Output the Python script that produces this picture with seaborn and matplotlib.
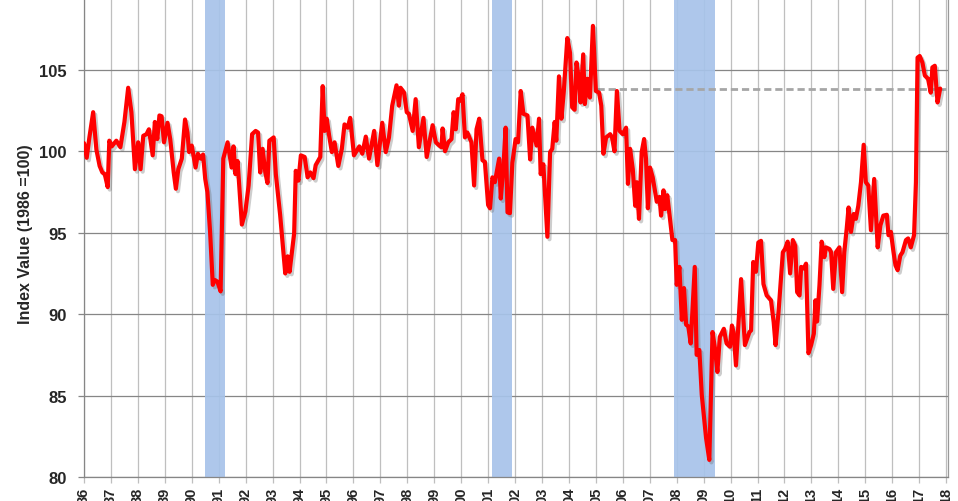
import pandas as pd
import matplotlib
matplotlib.use("Agg")
import matplotlib.pyplot as plt
import matplotlib.patheffects as pe
import seaborn as sns

# index values (decimal year, index 1986=100)
years = [
    1986.00, 1986.10, 1986.20, 1986.34, 1986.46, 1986.58, 1986.68, 1986.77, 1986.88, 1986.94,
    1987.03, 1987.20, 1987.35, 1987.50, 1987.64, 1987.76, 1987.89, 1988.01, 1988.10, 1988.20,
    1988.32, 1988.41, 1988.55, 1988.63, 1988.72, 1988.80, 1988.88, 1988.97, 1989.10, 1989.20,
    1989.33, 1989.41, 1989.50, 1989.63, 1989.75, 1989.84, 1989.90, 1990.00, 1990.14, 1990.23,
    1990.33, 1990.42, 1990.50, 1990.58, 1990.68, 1990.78, 1990.85, 1990.95, 1991.07, 1991.17,
    1991.33, 1991.48, 1991.55, 1991.62, 1991.70, 1991.86, 1991.99, 1992.11, 1992.24,
    1992.37, 1992.46, 1992.54, 1992.63, 1992.73, 1992.81, 1992.88, 1993.04, 1993.12, 1993.28,
    1993.47, 1993.56, 1993.63, 1993.80, 1993.86, 1993.96, 1994.05, 1994.19, 1994.30, 1994.40,
    1994.52, 1994.60, 1994.77, 1994.86, 1994.93, 1995.01, 1995.10, 1995.20, 1995.30, 1995.44,
    1995.57, 1995.67, 1995.79, 1995.88, 1996.02, 1996.22, 1996.33, 1996.46, 1996.58, 1996.77,
    1996.89, 1997.07, 1997.20, 1997.32, 1997.44, 1997.60, 1997.69, 1997.75, 1997.88, 1997.98,
    1998.06, 1998.20, 1998.31, 1998.43, 1998.60, 1998.72, 1998.94,
    1999.06, 1999.19, 1999.27, 1999.31, 1999.40, 1999.52, 1999.64, 1999.72, 1999.80, 1999.89,
    1999.96, 2000.05, 2000.14, 2000.23, 2000.38, 2000.48, 2000.57, 2000.67, 2000.79, 2000.88,
    2001.00, 2001.07, 2001.16, 2001.25, 2001.41, 2001.47, 2001.57, 2001.65, 2001.72, 2001.81,
    2001.90, 2002.02, 2002.11, 2002.21, 2002.31, 2002.46, 2002.56, 2002.64, 2002.80, 2002.89,
    2002.95, 2003.05, 2003.20, 2003.30, 2003.38, 2003.47, 2003.53, 2003.63, 2003.72, 2003.81,
    2003.94, 2004.04, 2004.12, 2004.21, 2004.28, 2004.37, 2004.43, 2004.53, 2004.59, 2004.68,
    2004.78, 2004.89,
    2005.00, 2005.12, 2005.20, 2005.28, 2005.38, 2005.53, 2005.60, 2005.69, 2005.78, 2005.88,
    2006.00, 2006.12, 2006.19, 2006.27, 2006.37, 2006.46, 2006.52, 2006.60, 2006.70, 2006.79,
    2006.86, 2006.93, 2007.01, 2007.11, 2007.26, 2007.36, 2007.42, 2007.51, 2007.57, 2007.65,
    2007.75, 2007.84, 2007.94, 2008.00, 2008.10, 2008.19, 2008.27, 2008.35, 2008.43, 2008.52,
    2008.67, 2008.74, 2008.84, 2008.93, 2009.09, 2009.21, 2009.33, 2009.42, 2009.51, 2009.60,
    2009.75, 2009.85, 2009.98,
    2010.05, 2010.11, 2010.20, 2010.39, 2010.53, 2010.70, 2010.76, 2010.84, 2010.94, 2011.03,
    2011.13, 2011.22, 2011.34, 2011.50,
    2011.60, 2011.67, 2011.78, 2011.94, 2012.02, 2012.12, 2012.21, 2012.31, 2012.40, 2012.47,
    2012.56, 2012.62, 2012.72, 2012.80, 2012.89, 2012.99, 2013.09, 2013.15, 2013.21, 2013.30,
    2013.38, 2013.48, 2013.54, 2013.67, 2013.73, 2013.81, 2013.91, 2014.04, 2014.14, 2014.22,
    2014.31, 2014.38, 2014.47, 2014.57, 2014.65, 2014.74, 2014.84, 2014.94, 2015.02, 2015.11,
    2015.21, 2015.33, 2015.46, 2015.56, 2015.67, 2015.80, 2015.86, 2015.95, 2016.04, 2016.12,
    2016.20, 2016.30, 2016.38, 2016.51, 2016.59, 2016.69, 2016.81, 2016.88, 2016.94, 2017.02,
    2017.12, 2017.21, 2017.33, 2017.43, 2017.49, 2017.58, 2017.68, 2017.78,
]
values = [
    100.5, 99.6, 100.85, 102.4, 100.1, 99.1, 98.7, 98.6, 97.8, 100.65,
    100.3, 100.65, 100.25, 101.8, 103.9, 102.4, 98.9, 100.55, 98.9, 100.95,
    101.05, 101.35, 99.75, 101.8, 100.75, 102.2, 102.15, 100.55, 101.75, 100.75,
    98.7, 97.7, 98.9, 99.55, 101.95, 101.15, 99.95, 100.35, 99.0, 99.85,
    99.55, 99.8, 98.3, 97.5, 95.05, 91.8, 92.1, 92.0, 91.4, 99.55,
    100.55, 99.0, 100.3, 98.6, 99.4, 95.5, 96.3, 97.9, 101.05,
    101.25, 101.15, 98.7, 100.15, 98.7, 98.05, 100.65, 100.85, 98.6, 96.1,
    92.5, 93.55, 92.6, 94.95, 98.8, 98.2, 99.75, 99.65, 98.4, 98.7,
    98.35, 99.15, 99.65, 104.0, 101.25, 102.0, 100.95, 99.95, 100.55, 99.1,
    100.15, 101.65, 101.45, 102.05, 99.75, 100.3, 99.85, 100.9, 99.55, 101.25,
    99.15, 101.75, 99.95, 100.85, 102.8, 104.05, 102.8, 103.9, 103.6, 102.4,
    102.3, 101.25, 103.2, 100.25, 102.05, 99.65, 101.6,
    100.55, 100.35, 100.25, 101.4, 100.0, 100.55, 100.75, 102.4, 101.35, 103.2,
    103.1, 103.5, 100.85, 101.15, 100.55, 97.9, 101.35, 102.0, 99.45, 99.35,
    96.7, 96.5, 98.4, 98.1, 99.55, 97.1, 99.1, 101.45, 96.25, 96.2,
    99.3, 100.75, 100.55, 103.7, 102.3, 102.2, 99.5, 101.45, 100.35, 102.0,
    98.6, 99.2, 94.75, 99.95, 100.15, 101.8, 100.65, 104.6, 102.0, 103.7,
    106.95, 106.05, 102.7, 102.55, 105.45, 104.45, 103.0, 105.95, 102.9, 104.45,
    103.3, 107.7,
    103.7, 103.6, 102.8, 99.85, 100.85, 101.05, 100.85, 100.0, 103.7, 101.25,
    101.05, 101.45, 98.0, 100.15, 98.9, 96.65, 98.1, 95.85, 99.95, 100.75,
    99.55, 96.5, 99.0, 98.4, 96.9, 97.2, 96.05, 97.6, 96.45, 97.3,
    95.85, 94.55, 94.55, 91.8, 92.9, 89.65, 91.6, 89.35, 89.25, 88.2,
    92.9, 87.5, 87.8, 85.05, 82.4, 81.05, 88.9, 87.9, 86.45, 88.6,
    89.1, 88.2, 88.0,
    89.3, 88.9, 86.85, 92.15, 88.1, 88.9, 89.0, 93.2, 92.6, 94.4,
    94.5, 91.85, 91.15, 90.85,
    89.5, 88.1, 90.15, 93.8, 94.0, 94.45, 92.5, 94.55, 94.2, 91.35,
    91.15, 92.9, 92.8, 93.1, 87.6, 88.1, 88.8, 90.85, 89.55, 91.8,
    94.45, 93.5, 94.1, 94.0, 93.8, 91.55, 93.8, 94.1, 91.35, 93.8,
    95.25, 96.55, 95.05, 96.15, 95.85, 96.65, 98.1, 100.4, 98.1, 97.9,
    95.15, 98.3, 94.1, 95.45, 96.05, 96.1, 94.85, 95.05, 93.9, 93.0,
    92.7, 93.6, 93.8, 94.55, 94.65, 94.1, 94.85, 98.1, 105.75, 105.85,
    105.45, 104.65, 104.45, 103.6, 105.15, 105.25, 103.0, 103.85,
]

# recession periods (shaded)
recession_start = [1990.49, 2001.14, 2007.89]
recession_end = [1991.23, 2001.87, 2009.42]

# reference level (dashed)
ref_level = 103.8
ref_start, ref_end = 2005.05, 2018.0

tick_years = list(range(1986, 2019))
tick_labels = [f"{y % 100:02d}" for y in tick_years]
y_ticks = [80, 85, 90, 95, 100, 105]

sns.set_style("white")
plt.rcParams['font.family'] = ['Liberation Sans', 'DejaVu Sans']

df = pd.DataFrame({'year': years, 'value': values})

fig = plt.figure(figsize=(9.58, 5.02), dpi=100)
ax = fig.add_axes([84 / 958, 24 / 502, 864 / 958, 478 / 502])

# recession bars
for s, e in zip(recession_start, recession_end):
    ax.axvspan(s, e, color='#A7C3EA', alpha=0.92, lw=0, zorder=1)

# dashed reference line
ax.plot([ref_start, ref_end], [ref_level, ref_level], color='#A6A6A6', lw=2.0,
        ls=(0, (2.6, 1.4)), zorder=2)

sns.lineplot(data=df, x='year', y='value', ax=ax, color='#FF0000', lw=3.0,
             solid_joinstyle='round', solid_capstyle='round', zorder=4,
             path_effects=[pe.SimpleLineShadow(offset=(1.5, -1.8), shadow_color='#707070', alpha=0.35),
                           pe.Normal()])

ax.set_xlim(1986, 2018.07)
ax.set_ylim(80, 109.35)
ax.set_xticks(tick_years)
ax.set_xticklabels(tick_labels, rotation=90, fontsize=10.5, fontweight='bold')
ax.set_yticks(y_ticks)
ax.set_yticklabels([str(v) for v in y_ticks], fontsize=12, fontweight='bold')

ax.set_axisbelow(True)
ax.grid(axis='x', color='#BFBFBF', lw=0.9)
ax.grid(axis='y', color='#868686', lw=0.9)

ax.tick_params(axis='y', length=4, width=0.9, color='#868686', pad=8.5, left=True)
ax.tick_params(axis='x', length=4, width=0.9, color='#BFBFBF', pad=3, bottom=True)

for side in ['left', 'bottom']:
    ax.spines[side].set_color('#868686')
    ax.spines[side].set_linewidth(0.9)
ax.spines['top'].set_visible(False)
ax.spines['right'].set_color('#9A9A9A')
ax.spines['right'].set_linewidth(0.9)

ax.set_xlabel('')
ax.set_ylabel('Index Value (1986 =100)', fontsize=11.5, fontweight='bold')
ax.yaxis.set_label_coords(-0.0596, 0.511)

fig.savefig('out.png', dpi=100)
plt.close(fig)
